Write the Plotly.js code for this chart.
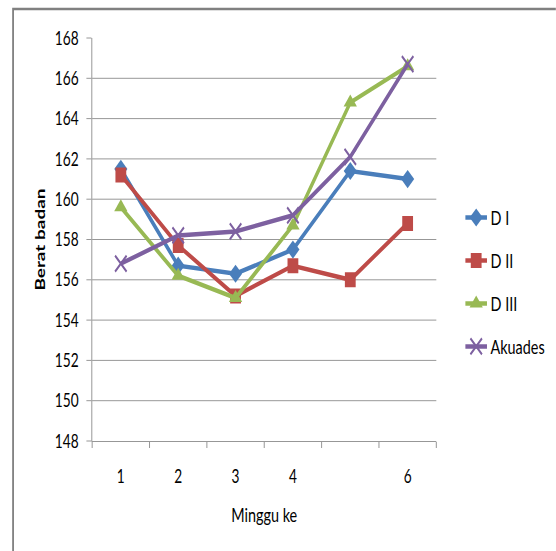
<!DOCTYPE html>
<html>
<head>
<meta charset="utf-8">
<script src="https://cdn.plot.ly/plotly-3.0.1.min.js"></script>
<style>
html,body{margin:0;padding:0;background:#fff;overflow:hidden;width:556px;height:551px;}
#chart{width:772px;height:551px;transform:scaleX(0.72);transform-origin:0 0;}
</style>
</head>
<body>
<div id="chart"></div>
<script>
const weeks = ['1', '2', '3', '4', '5', '6'];
const weekLabels = ['1', '2', '3', '4', '', '6'];
const dI = [161.5, 156.7, 156.3, 157.5, 161.4, 161.0];
const dII = [161.2, 157.7, 155.2, 156.7, 156.0, 158.8];
const dIII = [159.6, 156.2, 155.1, 158.7, 164.8, 166.6];
const akuades = [156.8, 158.2, 158.4, 159.2, 162.1, 166.7];
const seriesNames = ['D I', 'D II', 'D III', 'Akuades'];
const yTicks = [148, 150, 152, 154, 156, 158, 160, 162, 164, 166, 168];

const FONT = 'Lato, "Liberation Sans", sans-serif';
const styles = [
  {color: '#4A7EBB', symbol: 'diamond', size: 14},
  {color: '#BE4B48', symbol: 'square', size: 15},
  {color: '#98B954', symbol: 'triangle-up', size: 16},
  {color: '#7D60A0', symbol: 'x-thin-open', size: 16}
];
const data = [dI, dII, dIII, akuades].map((ys, i) => ({
  type: 'scatter', mode: 'lines+markers',
  x: weeks, y: ys, name: seriesNames[i], legendgroup: 'g' + i,
  line: {color: styles[i].color, width: 4.5},
  marker: {color: styles[i].color, symbol: styles[i].symbol, size: styles[i].size,
           line: {color: styles[i].color, width: i === 3 ? 2.5 : 0}}
}));

const layout = {
  width: 772, height: 551,
  margin: {l: 128, r: 166, t: 38, b: 110, autoexpand: false},
  paper_bgcolor: '#fff', plot_bgcolor: '#fff',
  font: {family: FONT, size: 19, color: '#000'},
  showlegend: true,
  legend: {x: 1.074, xanchor: 'left', y: 0.603, yanchor: 'top',
           font: {family: FONT, size: 20, color: '#000'},
           traceorder: 'grouped', tracegroupgap: 14, itemwidth: 30},
  xaxis: {
    type: 'category', range: [-0.5, 5.5], tickmode: 'array', tickvals: weeks, ticktext: weekLabels,
    tickson: 'boundaries', ticks: 'outside', ticklen: 6, tickcolor: '#868686',
    showline: true, linecolor: '#868686', linewidth: 1, showgrid: false, zeroline: false,
    ticklabelstandoff: 18, tickfont: {family: FONT, size: 19},
    title: {text: 'Minggu ke', font: {family: FONT, size: 20}, standoff: 22}
  },
  yaxis: {
    range: [148, 168], tickmode: 'array', tickvals: yTicks,
    ticks: 'outside', ticklen: 7, tickcolor: '#868686',
    showline: true, linecolor: '#868686', linewidth: 1,
    showgrid: true, gridcolor: '#868686', gridwidth: 1, zeroline: false,
    ticklabelstandoff: 7, tickfont: {family: FONT, size: 19},
    title: {text: 'Berat badan', font: {family: FONT, size: 19, weight: 'bold'}, standoff: 7}
  },
  shapes: [{
    type: 'path', xref: 'paper', yref: 'paper',
    path: 'M -0.2298 -0.3 L -0.2298 1.072 L 1.4 1.072',
    line: {color: '#808080', width: 2.5}
  }]
};
Plotly.newPlot('chart', data, layout, {staticPlot: true, displayModeBar: false});
</script>
</body>
</html>
